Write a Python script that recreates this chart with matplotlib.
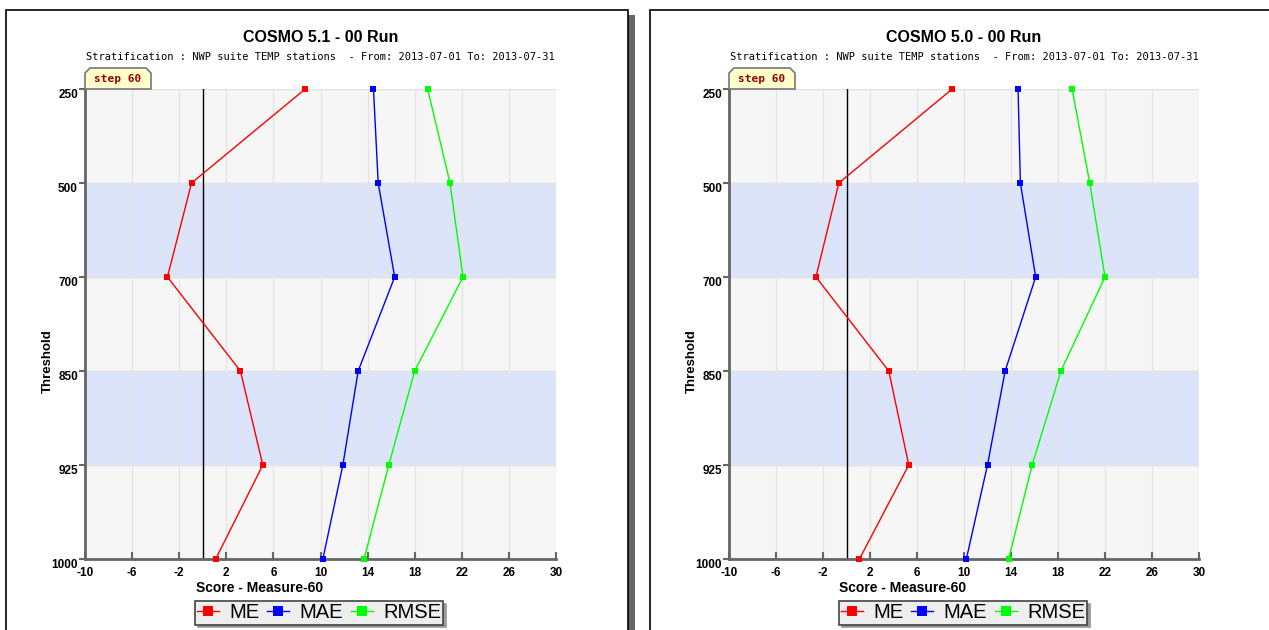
import matplotlib
matplotlib.use("Agg")
import matplotlib.pyplot as plt
import matplotlib.transforms as mtransforms
from matplotlib.patches import Rectangle, Polygon
import numpy as np

plt.rcParams['font.family'] = ['Liberation Sans', 'DejaVu Sans']

# data
thresholds = ["250", "500", "700", "850", "925", "1000"]
x_ticks = [-10, -6, -2, 2, 6, 10, 14, 18, 22, 26, 30]

titles = ["COSMO 5.1 - 00 Run", "COSMO 5.0 - 00 Run"]
subtitle = "Stratification : NWP suite TEMP stations  - From: 2013-07-01 To: 2013-07-31"

me_51 = [8.7, -0.95, -3.0, 3.2, 5.1, 1.1]
mae_51 = [14.5, 14.9, 16.3, 13.2, 11.9, 10.2]
rmse_51 = [19.1, 21.0, 22.1, 18.0, 15.8, 13.7]

me_50 = [9.0, -0.65, -2.6, 3.6, 5.3, 1.1]
mae_50 = [14.6, 14.8, 16.1, 13.5, 12.0, 10.2]
rmse_50 = [19.2, 20.7, 22.0, 18.25, 15.8, 13.8]

panels = [(me_51, mae_51, rmse_51), (me_50, mae_50, rmse_50)]
series_names = ["ME", "MAE", "RMSE"]
series_colors = ["#ff0000", "#0000ff", "#00ff00"]

W, H = 1269, 630
fig = plt.figure(figsize=(W / 100, H / 100), dpi=100)
fig.patch.set_facecolor("white")


def px_box(x0, y0, x1, y1):
    # pixel box (top-left origin) -> figure fraction rect
    return [x0 / W, 1 - y1 / H, (x1 - x0) / W, (y1 - y0) / H]


# panel frames
fig.patches.append(Rectangle((628 / W, 0), 7 / W, 1 - 15 / H, transform=fig.transFigure,
                             facecolor="#666666", edgecolor="none", zorder=0))
fig.patches.append(Rectangle((6 / W, -0.05), 622 / W, 1.05 - 10 / H, transform=fig.transFigure,
                             facecolor="white", edgecolor="black", lw=1.2, zorder=1))
fig.patches.append(Rectangle((650 / W, -0.05), 640 / W, 1.05 - 10 / H, transform=fig.transFigure,
                             facecolor="white", edgecolor="black", lw=1.2, zorder=1))

axes_px = [(85, 89, 556, 559), (729, 89, 1199, 559)]

for k, (me, mae, rmse) in enumerate(panels):
    x0, y0, x1, y1 = axes_px[k]
    ax = fig.add_axes(px_box(x0, y0, x1, y1))
    ax.set_zorder(2)
    ypos = np.arange(len(thresholds))

    ax.set_facecolor("#f6f6f6")
    ax.axhspan(1, 2, color="#dce4fa", zorder=0)
    ax.axhspan(3, 4, color="#dce4fa", zorder=0)
    for y in ypos:
        ax.axhline(y, color="#e2e2e2", lw=1, zorder=0.5)
    for xt in x_ticks:
        ax.axvline(xt, color="#e4e4e4", lw=1, zorder=0.5)
    ax.axvline(0, color="black", lw=1, zorder=1)

    for vals, name, col in zip((me, mae, rmse), series_names, series_colors):
        ax.plot(vals, ypos, color=col, lw=1, marker="s", markersize=4.5,
                markeredgewidth=0, label=name, zorder=3, clip_on=False)

    ax.set_xlim(-10, 30)
    ax.set_ylim(5, 0)
    ax.set_xticks(x_ticks)
    ax.set_xticklabels([str(v) for v in x_ticks], fontsize=8.5, fontweight="bold")
    ax.set_yticks(ypos)
    ax.set_yticklabels([])
    # threshold labels sit a little below their ticks
    off = mtransforms.ScaledTranslation(-7 / 100, -5.5 / 100, fig.dpi_scale_trans)
    ytrans = ax.get_yaxis_transform() + off
    for y, lab in zip(ypos, thresholds):
        ax.text(0, y, lab, transform=ytrans, ha="right", va="center",
                fontsize=8.5, fontweight="bold", clip_on=False)

    for s in ["top", "right"]:
        ax.spines[s].set_visible(False)
    for s in ["left", "bottom"]:
        ax.spines[s].set_color("#666666")
        ax.spines[s].set_linewidth(2)
    ax.tick_params(axis="x", direction="in", length=5, width=1.5, color="#666666", pad=6)
    ax.tick_params(axis="y", direction="out", length=4, width=1.5, color="#666666", pad=2)

    ax.set_xlabel("Score - Measure-60", fontsize=10, fontweight="bold")
    ax.xaxis.set_label_coords(0.37, -0.047)
    ax.set_ylabel("Threshold", fontsize=9.5, fontweight="bold")
    ax.yaxis.set_label_coords(-0.066, 0.42)

    cx = (x0 + x1) / 2
    fig.text(cx / W, 1 - 38 / H, titles[k], ha="center", va="center",
             fontsize=11.5, fontweight="bold")
    fig.text(cx / W, 1 - 57 / H, subtitle, ha="center", va="center",
             fontsize=7.5, family="DejaVu Sans Mono")

    # step tab
    tx0, ty0, tx1, ty1 = x0, 68, x0 + 66, 89
    c = 5
    tab = [(tx0, ty1), (tx0, ty0 + c), (tx0 + c, ty0), (tx1 - c, ty0), (tx1, ty0 + c), (tx1, ty1)]
    fig.patches.append(Polygon([(px / W, 1 - py / H) for px, py in tab], closed=True,
                               transform=fig.transFigure, facecolor="#ffffcc",
                               edgecolor="#777777", lw=1.2, zorder=3))
    fig.text((tx0 + tx1) / 2 / W, 1 - 79 / H, "step 60", ha="center", va="center",
             fontsize=8, fontweight="bold", family="DejaVu Sans Mono", color="#990000", zorder=4)

    handles, labels = ax.get_legend_handles_labels()
    lx = x0 + 234
    leg = fig.legend(handles, labels, loc="center", ncol=3,
                     bbox_to_anchor=(lx / W, 1 - 613 / H), fontsize=14.5,
                     frameon=True, fancybox=False, shadow={"color": "#999999", "alpha": 1},
                     facecolor="#eeeeee", edgecolor="#444444", framealpha=1,
                     handlelength=1.1, handletextpad=0.5, columnspacing=0.4,
                     borderpad=0.1, borderaxespad=0, markerscale=1.7)
    leg.get_frame().set_linewidth(1.2)

fig.savefig("out.png", dpi=100)
